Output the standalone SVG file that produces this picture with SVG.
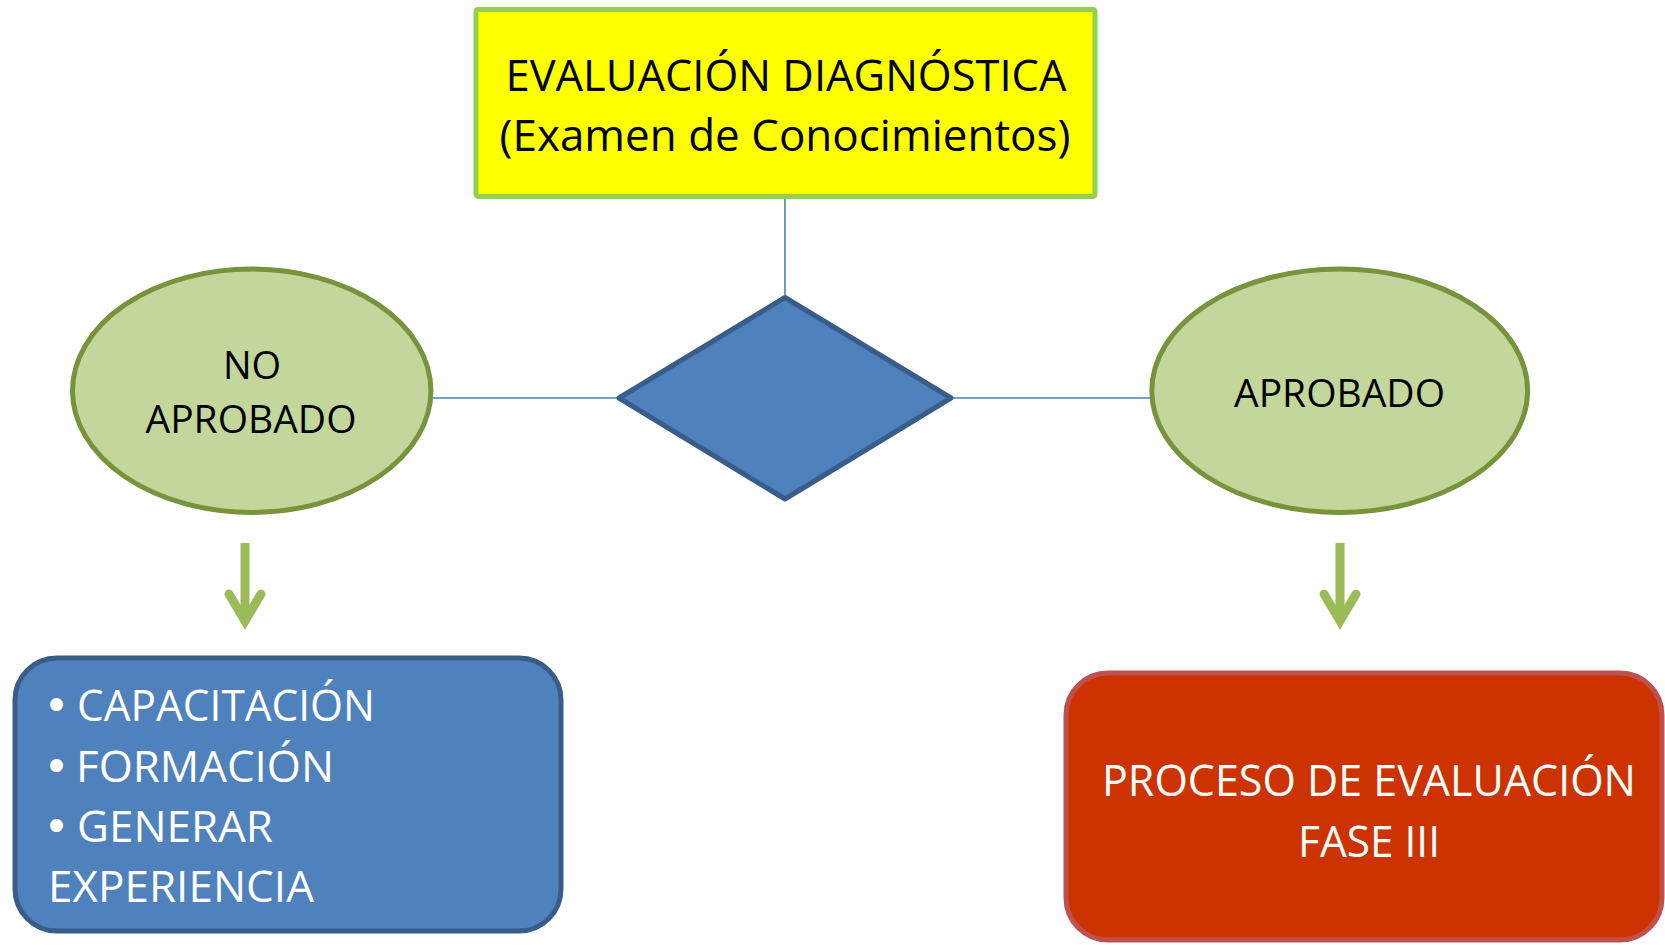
<svg xmlns="http://www.w3.org/2000/svg" width="1665" height="945" viewBox="0 0 1665 945">
<style>
text{font-family:"Open Sans","Noto Sans","Liberation Sans",sans-serif;}
.big{font-size:44px;}
.mid{font-size:38px;}
.bul{font-family:"DejaVu Sans",sans-serif;font-size:44px;}
.blk{fill:#000;}
.wht{fill:#fff;}
.conn{stroke:#4A7EBB;stroke-width:1.6;fill:none;}
.garrow{stroke:#9BBB59;stroke-width:9;fill:none;}
.ell{fill:#C3D69B;stroke:#77933C;stroke-width:5;}
</style>
<rect width="1665" height="945" fill="#fff"/>
<g id="connectors">
<line class="conn" x1="785" y1="197" x2="785" y2="297"/>
<line class="conn" x1="431" y1="398" x2="619" y2="398"/>
<line class="conn" x1="951" y1="398" x2="1152" y2="398"/>
<g id="arrow-left">
<line class="garrow" x1="245" y1="543" x2="245" y2="618" stroke-linecap="butt"/>
<polyline class="garrow" points="229,594 245,621 261,594" stroke-linecap="round" stroke-linejoin="miter"/>
</g>
<g id="arrow-right">
<line class="garrow" x1="1340" y1="543" x2="1340" y2="618" stroke-linecap="butt"/>
<polyline class="garrow" points="1324,594 1340,621 1356,594" stroke-linecap="round" stroke-linejoin="miter"/>
</g>
</g>
<g id="node-evaluacion">
<rect x="476" y="9.5" width="619" height="187" rx="2" fill="#FFFF00" stroke="#92D050" stroke-width="5"/>
<text class="big blk" x="786" y="91" text-anchor="middle" textLength="561" lengthAdjust="spacingAndGlyphs">EVALUACIÓN DIAGNÓSTICA</text>
<text class="big blk" x="785" y="151" text-anchor="middle" textLength="571" lengthAdjust="spacingAndGlyphs">(Examen de Conocimientos)</text>
</g>
<g id="node-decision">
<polygon points="785,297.5 951,398 785,499 619,398" fill="#4F81BD" stroke="#385D8A" stroke-width="5" stroke-linejoin="round"/>
</g>
<g id="node-no-aprobado">
<ellipse class="ell" cx="251.7" cy="390.7" rx="179.2" ry="121.7"/>
<text class="mid blk" x="252" y="379" text-anchor="middle">NO</text>
<text class="mid blk" x="251" y="433" text-anchor="middle" textLength="211" lengthAdjust="spacingAndGlyphs">APROBADO</text>
</g>
<g id="node-aprobado">
<ellipse class="ell" cx="1339.7" cy="390.7" rx="187.9" ry="121.7"/>
<text class="mid blk" x="1339.5" y="407" text-anchor="middle" textLength="211" lengthAdjust="spacingAndGlyphs">APROBADO</text>
</g>
<g id="node-capacitacion">
<rect x="15" y="658" width="546" height="273" rx="42" fill="#4F81BD" stroke="#385D8A" stroke-width="5"/>
<text class="big wht"><tspan class="bul" x="43.5" y="721">•</tspan><tspan x="77" y="721" textLength="298" lengthAdjust="spacingAndGlyphs">CAPACITACIÓN</tspan></text>
<text class="big wht"><tspan class="bul" x="43.5" y="782">•</tspan><tspan x="76" y="782" textLength="258" lengthAdjust="spacingAndGlyphs">FORMACIÓN</tspan></text>
<text class="big wht"><tspan class="bul" x="43.5" y="842">•</tspan><tspan x="77" y="842" textLength="196" lengthAdjust="spacingAndGlyphs">GENERAR</tspan></text>
<text class="big wht" x="48" y="902" textLength="266" lengthAdjust="spacingAndGlyphs">EXPERIENCIA</text>
</g>
<g id="node-proceso">
<rect x="1066" y="673" width="596" height="267" rx="42" fill="#CC3300" stroke="#C0504D" stroke-width="5"/>
<text class="big wht" x="1369" y="796" text-anchor="middle" textLength="534" lengthAdjust="spacingAndGlyphs">PROCESO DE EVALUACIÓN</text>
<text class="big wht" x="1369" y="857" text-anchor="middle" textLength="142" lengthAdjust="spacingAndGlyphs">FASE III</text>
</g>
</svg>
